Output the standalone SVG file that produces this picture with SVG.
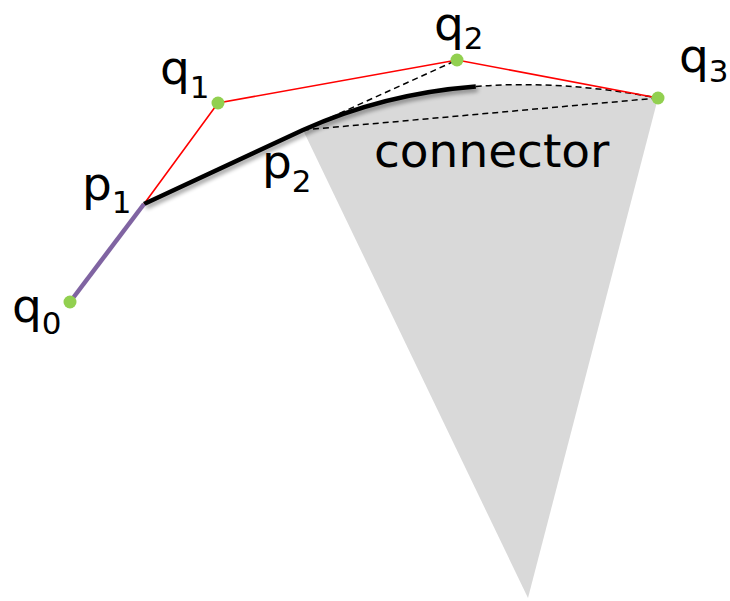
<svg xmlns="http://www.w3.org/2000/svg" width="730" height="601" viewBox="0 0 730 601">
<style>
.lbl{font-family:"DejaVu Sans",Verdana,sans-serif;font-size:47px;fill:#000}
.sub{font-size:31px}
.dash{fill:none;stroke:#000;stroke-width:1.5;stroke-dasharray:6,4}
.ctrl{fill:none;stroke:#ff0000;stroke-width:1.6}
.dot{fill:#92d050}
</style>
<defs>
<filter id="sh" x="-10%" y="-50%" width="120%" height="200%">
<feGaussianBlur in="SourceAlpha" stdDeviation="2"/>
<feOffset dx="2" dy="3" result="b"/>
<feComponentTransfer><feFuncA type="linear" slope="0.4"/></feComponentTransfer>
<feMerge><feMergeNode/><feMergeNode in="SourceGraphic"/></feMerge>
</filter>
</defs>
<g id="cone">
<path d="M303,130 Q457,60 658,98 L528,598 Z" fill="#d9d9d9"/>
</g>
<g id="connectors">
<line class="dash" x1="303" y1="130" x2="457" y2="60"/>
<line class="dash" x1="303" y1="130" x2="658" y2="98"/>
<path class="dash" d="M475.8,86.4 Q561.5,79.8 658,98"/>
<polyline class="ctrl" points="144,204 218,103 457,60 658,98"/>
<path d="M144,204 L303,130 Q383.1,93.6 475.8,86.4" fill="none" stroke="#000" stroke-width="4.5" filter="url(#sh)"/>
<line x1="70" y1="302" x2="144" y2="204" stroke="#8064a2" stroke-width="4.5"/>
</g>
<g id="q0"><circle class="dot" cx="70" cy="302" r="6.5"/><text class="lbl" x="12" y="322">q<tspan class="sub" dy="12">0</tspan></text></g>
<g id="p1"><text class="lbl" x="82" y="200">p<tspan class="sub" dy="13">1</tspan></text></g>
<g id="q1"><circle class="dot" cx="218" cy="103" r="6.5"/><text class="lbl" x="160" y="84">q<tspan class="sub" dy="14">1</tspan></text></g>
<g id="p2"><text class="lbl" x="262" y="178">p<tspan class="sub" dy="14">2</tspan></text></g>
<g id="q2"><circle class="dot" cx="457" cy="60" r="6.5"/><text class="lbl" x="434" y="40">q<tspan class="sub" dy="9">2</tspan></text></g>
<g id="q3"><circle class="dot" cx="658" cy="98" r="6.5"/><text class="lbl" x="679" y="72">q<tspan class="sub" dy="10">3</tspan></text></g>
<g id="connector-label"><text class="lbl" x="374" y="167">connector</text></g>
</svg>
